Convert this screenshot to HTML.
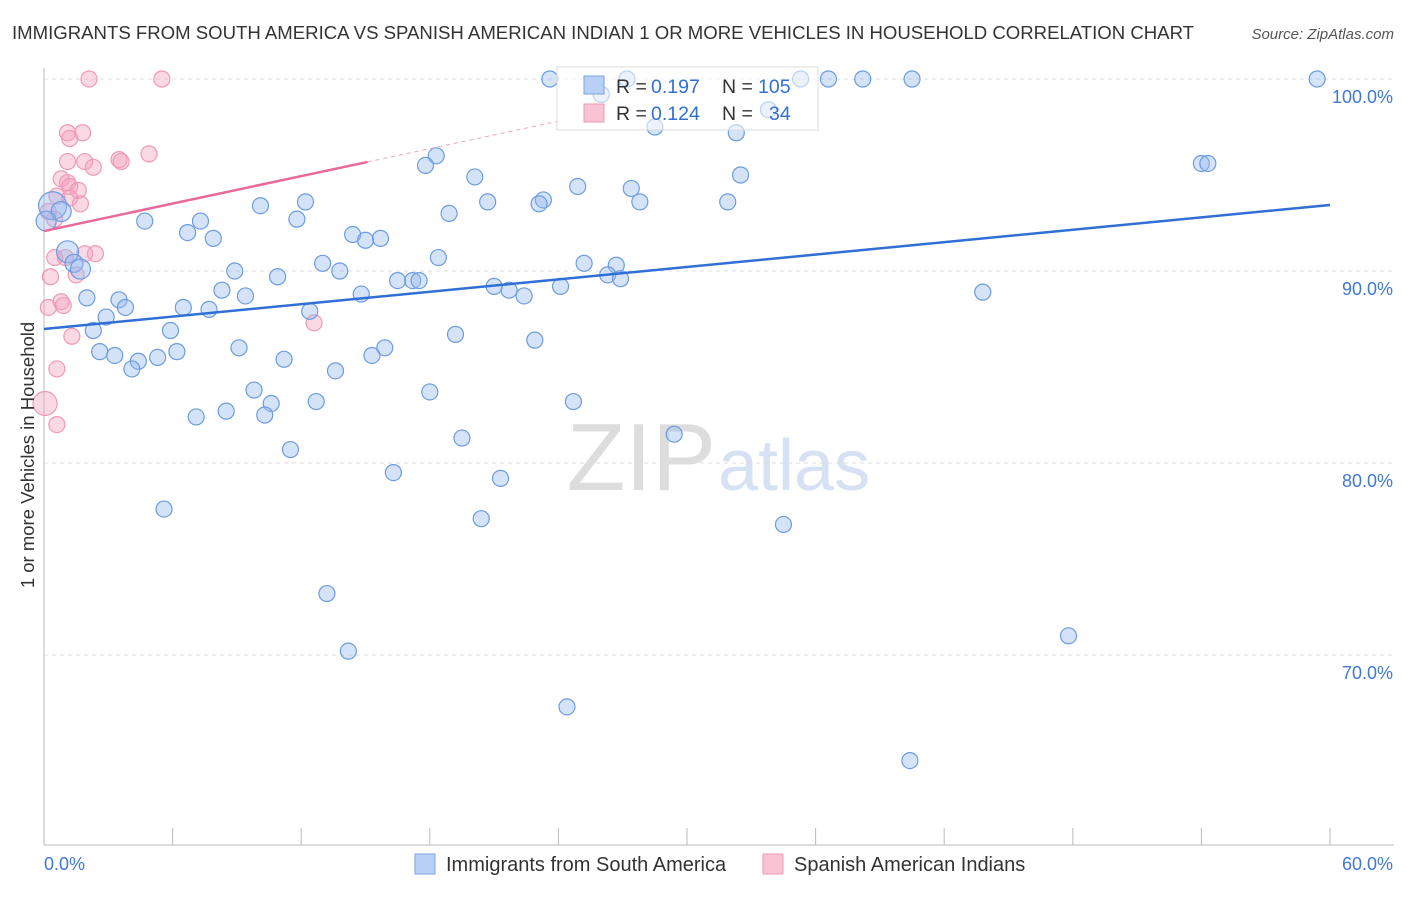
<!DOCTYPE html>
<html><head><meta charset="utf-8"><style>
body{margin:0;background:#fff;font-family:"Liberation Sans",sans-serif;}
svg text{font-family:"Liberation Sans",sans-serif;}
</style></head><body>
<svg id="chart" width="1406" height="892" viewBox="0 0 1406 892" xmlns="http://www.w3.org/2000/svg">
<text x="12" y="39" font-size="18.6" fill="#333" textLength="1182">IMMIGRANTS FROM SOUTH AMERICA VS SPANISH AMERICAN INDIAN 1 OR MORE VEHICLES IN HOUSEHOLD CORRELATION CHART</text>
<text x="1394" y="39" font-size="15" fill="#555" font-style="italic" text-anchor="end">Source: ZipAtlas.com</text>
<text x="716" y="490" font-size="96" fill="#ddd" text-anchor="end" font-family="Liberation Serif">ZIP</text>
<text x="718" y="490" font-size="72" fill="#d6e2f3">atlas</text>
<g id="grid"></g><g id="axes"></g><g id="pts"></g><g id="lines"></g>
<text transform="translate(34,455) rotate(-90)" font-size="18.5" fill="#333" text-anchor="middle">1 or more Vehicles in Household</text>
<g>
<rect x="557" y="67" width="261" height="63" fill="rgba(255,255,255,0.55)" stroke="#ddd"/>
<rect x="584" y="76" width="20" height="18" fill="#b8d0f5" stroke="#7aa3e0"/>
<rect x="584" y="104" width="20" height="18" fill="#f8c4d4" stroke="#ec9ab4"/>
<text x="616" y="93" font-size="19.5" fill="#333">R =</text>
<text x="651" y="93" font-size="19.5" fill="#2f6fd6">0.197</text>
<text x="722" y="93" font-size="19.5" fill="#333">N =</text>
<text x="758" y="93" font-size="19.5" fill="#2f6fd6">105</text>
<text x="616" y="120" font-size="19.5" fill="#333">R =</text>
<text x="651" y="120" font-size="19.5" fill="#2f6fd6">0.124</text>
<text x="722" y="120" font-size="19.5" fill="#333">N =</text>
<text x="769" y="120" font-size="19.5" fill="#2f6fd6">34</text>
</g>
<g>
<rect x="415" y="854" width="20" height="20" fill="#b8d0f5" stroke="#7aa3e0"/>
<text x="446" y="871" font-size="20" fill="#333">Immigrants from South America</text>
<rect x="763" y="854" width="20" height="20" fill="#f8c4d4" stroke="#ec9ab4"/>
<text x="794" y="871" font-size="20" fill="#333">Spanish American Indians</text>
</g>
</svg>
<script>
const yTicks=[100,90,80,70];
const xTickLabels=["0.0%","60.0%"];
const blueX=[23.6,27.2,35.3,36.6,38.2,40.5,59.4,26.0,28.5,32.3,33.8,54.0,54.3,18.3,17.8,20.1,32.5,24.9,27.4,23.3,23.1,20.7,27.8,31.9,12.2,10.1,18.9,11.8,4.7,7.3,6.7,7.9,14.4,15.0,15.7,18.4,13.0,13.8,8.9,10.9,16.5,17.2,17.5,21.0,21.7,22.4,24.1,25.2,26.7,26.3,26.9,43.8,8.3,9.4,14.8,2.0,3.5,3.8,6.5,7.7,12.4,2.9,2.3,5.9,19.2,22.9,9.1,15.9,15.3,6.2,2.6,3.3,5.3,4.4,4.1,11.2,13.6,9.8,18.0,10.6,12.7,8.5,7.1,10.3,24.7,19.5,29.4,11.5,16.3,21.3,5.6,20.4,34.5,13.2,47.8,14.2,24.4,40.4,0.4,0.8,1.1,1.4,1.7,0.1];
const blueY=[100,100,100,100,100,100,100,99.2,97.5,97.2,98.4,95.6,95.6,96.0,95.5,94.9,95.0,94.4,94.3,93.7,93.5,93.6,93.6,93.6,93.6,93.4,93.0,92.7,92.6,92.6,92.0,91.7,91.9,91.6,91.7,90.7,90.4,90.0,90.0,89.7,89.5,89.5,89.5,89.2,89.0,88.7,89.2,90.4,90.3,89.8,89.6,88.9,89.0,88.7,88.8,88.6,88.5,88.1,88.1,88.0,87.9,87.6,86.9,86.9,86.7,86.4,86.0,86.0,85.6,85.8,85.8,85.6,85.5,85.3,84.9,85.4,84.8,83.8,83.7,83.1,83.2,82.7,82.4,82.5,83.2,81.3,81.5,80.7,79.5,79.2,77.6,77.1,76.8,73.2,71.0,70.2,67.3,64.5,93.4,93.1,91.0,90.4,90.1,92.6];
const pinkX=[2.1,5.5,1.1,1.8,1.2,4.9,1.1,1.9,3.5,3.6,2.3,0.8,1.1,1.2,1.6,0.6,1.2,1.7,0.2,0.5,1.0,0.5,2.4,1.9,1.5,0.3,0.8,0.9,0.2,12.6,1.3,0.6,0.05,0.6];
const pinkY=[100,100,97.2,97.2,96.9,96.1,95.7,95.7,95.8,95.7,95.4,94.8,94.6,94.4,94.2,93.9,93.8,93.5,93.1,92.7,90.7,90.7,90.9,90.9,89.8,89.7,88.4,88.2,88.1,87.3,86.6,84.9,83.1,82.0];
const blueR=[8,8,8,8,8,8,8,8,8,8,8,8,8,8,8,8,8,8,8,8,8,8,8,8,8,8,8,8,8,8,8,8,8,8,8,8,8,8,8,8,8,8,8,8,8,8,8,8,8,8,8,8,8,8,8,8,8,8,8,8,8,8,8,8,8,8,8,8,8,8,8,8,8,8,8,8,8,8,8,8,8,8,8,8,8,8,8,8,8,8,8,8,8,8,8,8,8,8,14,10,11,9,10,10];
const blueTrend=[86.98,93.44];
const pinkTrend=[92.08,95.68];
const X=v=>44+v/60*1286, Y=v=>79+(100-v)*19.2;
const NS="http://www.w3.org/2000/svg";
function mk(p,t,a){const e=document.createElementNS(NS,t);for(const k in a)e.setAttribute(k,a[k]);document.getElementById(p).appendChild(e);return e;}
yTicks.forEach(v=>{
 const l=mk('grid','line',{x1:44,x2:1394,y1:Y(v),y2:Y(v),stroke:'#ddd','stroke-dasharray':'4,4'});
 
 
 const t=mk('axes','text',{x:1393,y:Y(v)+24,'font-size':18,fill:'#3f78d6','text-anchor':'end'});t.textContent=v.toFixed(1)+'%';
 
 
});
mk('axes','line',{x1:44,x2:44,y1:68,y2:845,stroke:'#bbb'});
mk('axes','line',{x1:44,x2:1394,y1:845,y2:845,stroke:'#bbb'});
for(let i=0;i<=10;i++){const x=X(i*6);const t=mk('axes','line',{x1:x,x2:x,y1:828,y2:845,stroke:'#bbb'});
 
 }
let t1=mk('axes','text',{x:44,y:870,'font-size':18,fill:'#3f78d6'});t1.textContent=xTickLabels[0];


let t2=mk('axes','text',{x:1393,y:870,'font-size':18,fill:'#3f78d6','text-anchor':'end'});t2.textContent=xTickLabels[1];


pinkX.forEach((x,i)=>{const c=mk('pts','circle',{cx:X(x),cy:Y(pinkY[i]),r:i==32?12:8,fill:'rgba(244,160,188,0.4)',stroke:'#ee9ab5','stroke-width':1.2});
 
 });
blueX.forEach((x,i)=>{const c=mk('pts','circle',{cx:X(x),cy:Y(blueY[i]),r:blueR[i]||8,fill:'rgba(150,186,240,0.4)',stroke:'#6b9ce0','stroke-width':1.2});
 
 });
const bl=mk('lines','line',{x1:X(0),x2:X(60),y1:Y(blueTrend[0]),y2:Y(blueTrend[1]),stroke:'#2f6fd6','stroke-width':2.5});


const sl=(pinkTrend[1]-pinkTrend[0])/15.1;
const pl=mk('lines','line',{x1:X(0),x2:X(15.1),y1:Y(pinkTrend[0]),y2:Y(pinkTrend[1]),stroke:'#e8699a','stroke-width':2.5});


const pd=mk('lines','line',{x1:X(15.1),x2:X(24),y1:Y(pinkTrend[1]),y2:Y(pinkTrend[0]+sl*24),stroke:'#f0a0bd','stroke-width':1,'stroke-dasharray':'4,4'});


</script>
</body></html>
